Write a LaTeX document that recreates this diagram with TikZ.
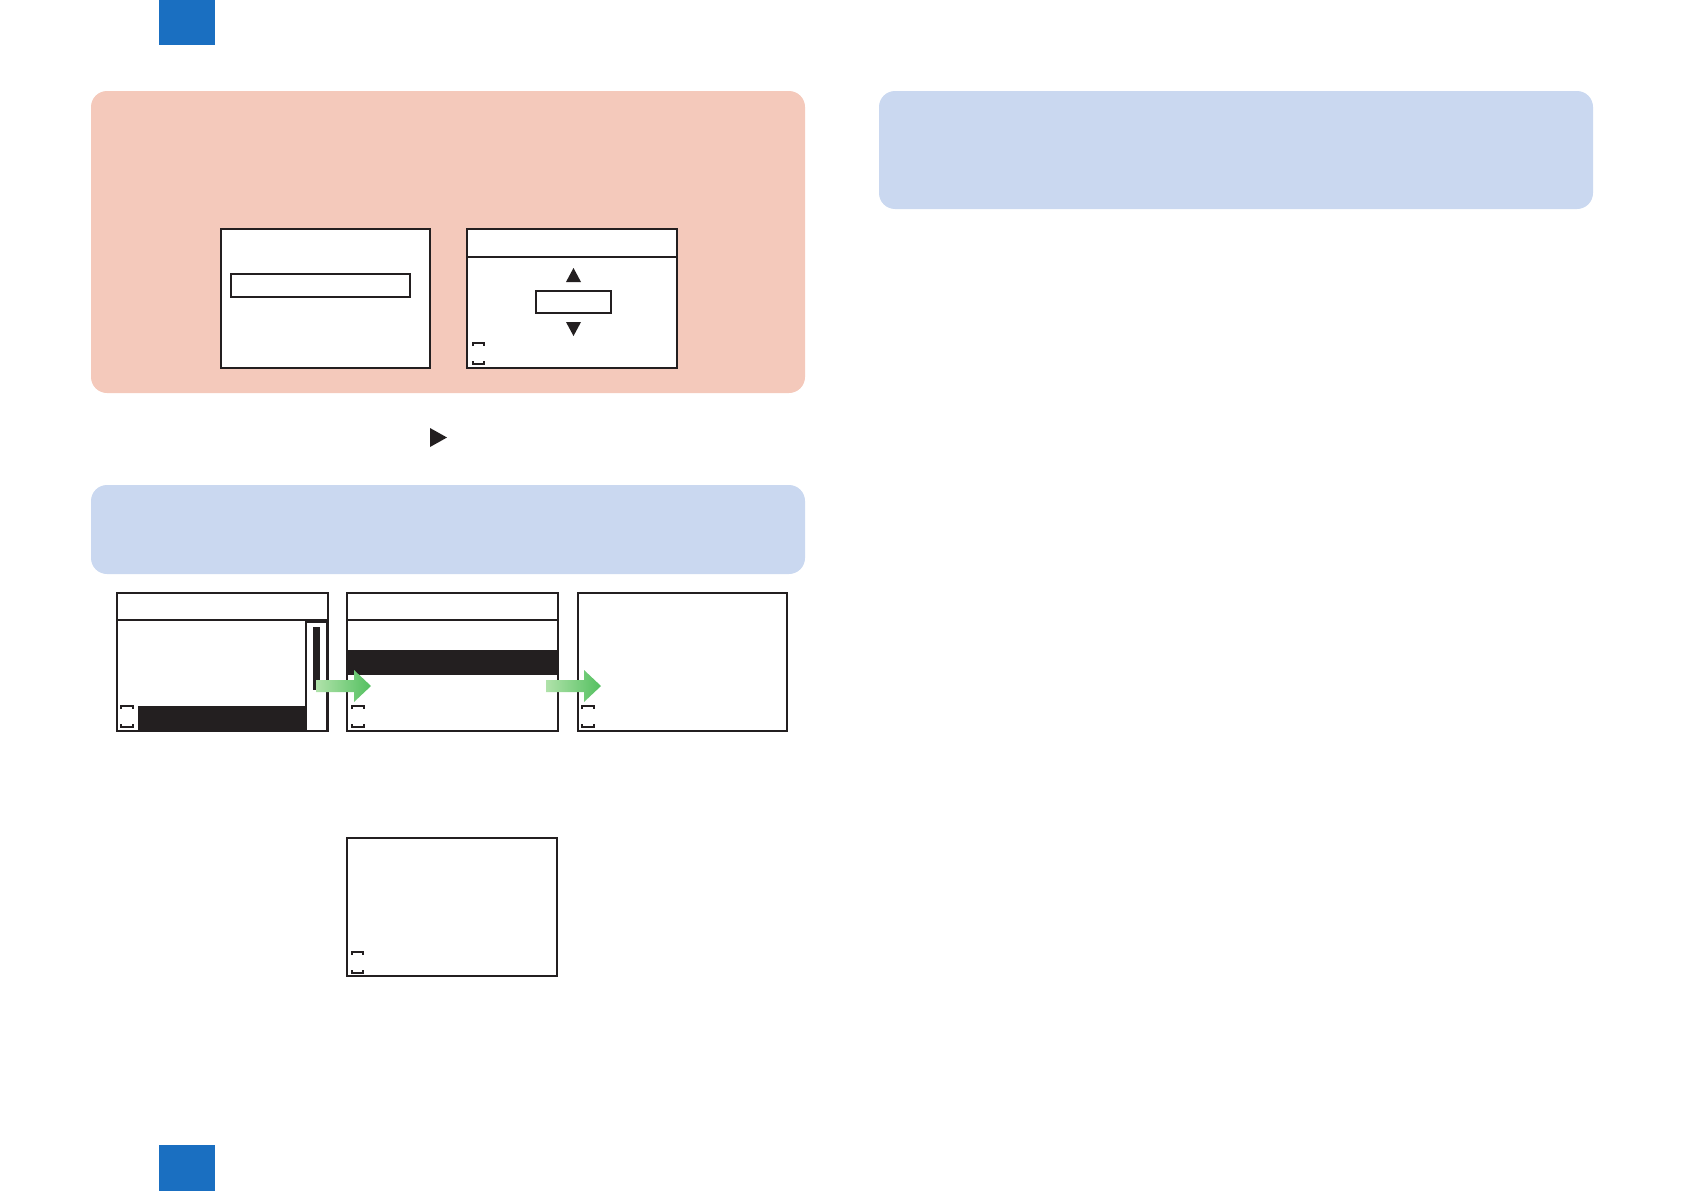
\documentclass[tikz,border=0pt]{standalone}
\definecolor{pinkbg}{RGB}{244,201,187}
\definecolor{bluebg}{RGB}{202,216,240}
\definecolor{tabblue}{RGB}{26,111,193}
\definecolor{ink}{RGB}{35,31,32}
\definecolor{arrowlight}{RGB}{176,226,170}
\definecolor{arrowdark}{RGB}{84,192,96}
\begin{document}
\begin{tikzpicture}[x=1pt,y=-1pt,
  panel/.style={rounded corners=16pt},
  screen/.style={draw=ink, line width=2pt, fill=white, inner sep=0pt, outer sep=0pt, anchor=north west},
  frameline/.style={draw=ink, line width=2pt},
  thinline/.style={draw=ink, line width=1.6pt},
  bracketline/.style={draw=ink, line width=1.3pt},
  greenarrow/.style={left color=arrowlight, right color=arrowdark, draw=none}]
\useasboundingbox (0,0) rectangle (1684,1191);
% tabs
\fill[tabblue] (159,0) rectangle (215,45);
\fill[tabblue] (159,1145) rectangle (215,1191);
% panels
\fill[pinkbg,panel] (91,91) rectangle (805,393);
\fill[bluebg,panel] (91,485) rectangle (805,574);
\fill[bluebg,panel] (879,91) rectangle (1593,209);
% screens in pink panel
\node[screen, minimum width=209pt, minimum height=139pt] (pl) at (220.5,229) {};
\node[screen, minimum width=210pt, minimum height=139pt] (pr) at (467,229) {};
\draw[thinline] (231,274) rectangle (410,297);
\draw[thinline] (467,257) -- (677,257);
\fill[ink] (566,282) -- (581,282) -- (573.5,268) -- cycle;
\draw[thinline] (536,291) rectangle (611,313);
\fill[ink] (566,322) -- (581,322) -- (573.5,336) -- cycle;
\draw[bracketline] (473,346) -- (473,343) -- (484,343) -- (484,346);
\draw[bracketline] (473,361) -- (473,364) -- (484,364) -- (484,361);
% play triangle
\fill[ink] (430,428) -- (447,437.5) -- (430,447) -- cycle;
% row of screens
\node[screen, minimum width=211pt, minimum height=138pt] (sa) at (117,592.5) {};
\node[screen, minimum width=211pt, minimum height=138pt] (sb) at (347,592.5) {};
\node[screen, minimum width=209pt, minimum height=138pt] (sc) at (578,592.5) {};
% screen A details
\draw[thinline] (117,620) -- (328,620);
\fill[ink] (138,706) rectangle (306,731);
\draw[thinline] (306,622) rectangle (327,731);
\fill[ink] (313,627) rectangle (320,690);
\draw[bracketline] (121,709) -- (121,706) -- (133,706) -- (133,709);
\draw[bracketline] (121,724) -- (121,727) -- (133,727) -- (133,724);
% screen B details
\draw[thinline] (347,620) -- (558,620);
\fill[ink] (347,650) rectangle (558,675);
\draw[bracketline] (352,709) -- (352,706) -- (364,706) -- (364,709);
\draw[bracketline] (352,724) -- (352,727) -- (364,727) -- (364,724);
% screen C details
\draw[bracketline] (582,709) -- (582,706) -- (594,706) -- (594,709);
\draw[bracketline] (582,724) -- (582,727) -- (594,727) -- (594,724);
% frame again on A and B so borders stay on top
\draw[frameline] (sa.north west) rectangle (sa.south east);
\draw[frameline] (sb.north west) rectangle (sb.south east);
% green arrows
\shade[greenarrow] (316,680) -- (354,680) -- (354,670) -- (371,686) -- (354,702) -- (354,692) -- (316,692) -- cycle;
\shade[greenarrow] (546,680) -- (584,680) -- (584,670) -- (601,686) -- (584,702) -- (584,692) -- (546,692) -- cycle;
% bottom screen
\node[screen, minimum width=210pt, minimum height=138pt] (sd) at (347,837.5) {};
\draw[bracketline] (352,955) -- (352,952) -- (363,952) -- (363,955);
\draw[bracketline] (352,970) -- (352,973) -- (363,973) -- (363,970);
\end{tikzpicture}
\end{document}
